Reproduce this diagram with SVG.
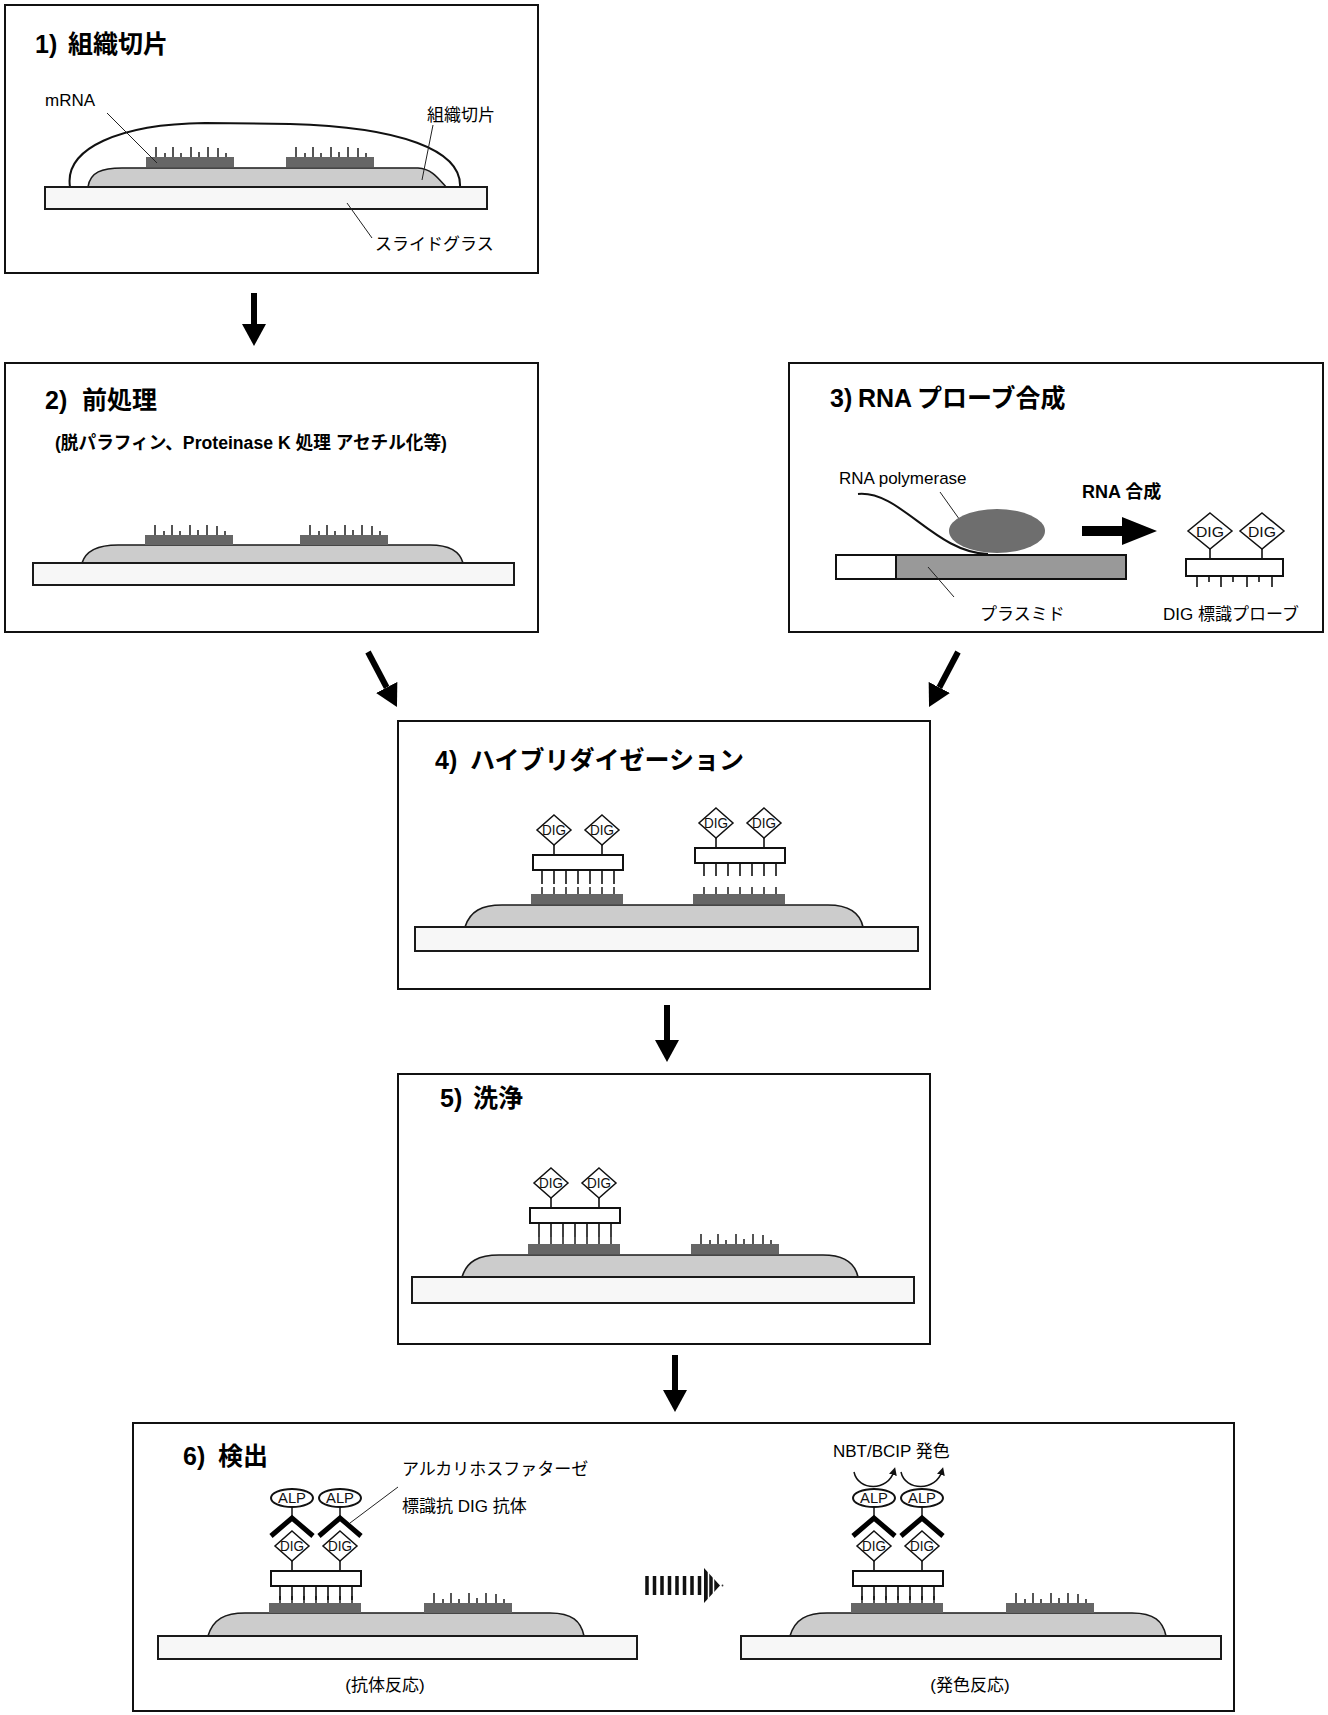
<svg xmlns="http://www.w3.org/2000/svg" xmlns:xlink="http://www.w3.org/1999/xlink" width="1328" height="1715" viewBox="0 0 1328 1715">
<style>
.box{fill:none;stroke:#111;stroke-width:2}
.title{font-family:"Liberation Sans","Noto Sans CJK JP",sans-serif;font-weight:bold;font-size:25px;fill:#000}
.lbl{font-family:"Liberation Sans","Noto Sans CJK JP",sans-serif;font-size:17px;fill:#000}
.blbl{font-family:"Liberation Sans","Noto Sans CJK JP",sans-serif;font-weight:bold;font-size:18px;fill:#000}
.slide{fill:#f7f7f7;stroke:#1a1a1a;stroke-width:2}
.tissue{fill:#cccccc;stroke:#1a1a1a;stroke-width:1.6}
.mbar{fill:#666}
.mtick{stroke:#555;stroke-width:2}
.ptick{stroke:#111;stroke-width:1.6}
.lead{stroke:#222;stroke-width:1;fill:none}
.arr{stroke:#000;stroke-width:6}
.dig{fill:#fff;stroke:#111;stroke-width:1.5}
.digt{font-family:"Liberation Sans",sans-serif;font-size:14px;fill:#111}
.alpt{font-family:"Liberation Sans",sans-serif;font-size:14px;fill:#111}
</style>
<defs>
<marker id="ah" viewBox="0 0 22 24" refX="0" refY="12" markerWidth="22" markerHeight="24" markerUnits="userSpaceOnUse" orient="auto">
<path d="M0,0 L22,12 L0,24 Z" fill="#000"/>
</marker>
<marker id="sah" viewBox="0 0 8 8" refX="4" refY="4" markerWidth="8" markerHeight="8" markerUnits="userSpaceOnUse" orient="auto">
<path d="M0,0 L8,4 L0,8 Z" fill="#111"/>
</marker>
<g id="dig">
<polygon class="dig" points="0,-15 17,0 0,15 -17,0"/>
<text class="digt" x="-12" y="5" textLength="24" lengthAdjust="spacingAndGlyphs">DIG</text>
</g>
<g id="probe">
<line class="ptick" x1="21" y1="-10" x2="21" y2="0"/>
<line class="ptick" x1="69" y1="-10" x2="69" y2="0"/>
<use xlink:href="#dig" x="21" y="-25"/>
<use xlink:href="#dig" x="69" y="-25"/>
<rect x="0" y="0" width="90" height="15" fill="#fff" stroke="#111" stroke-width="2"/>
<path class="ptick" d="M9,15v14M21,15v14M33,15v14M45,15v14M57,15v14M69,15v14M81,15v14"/>
</g>
<g id="mfree">
<path class="mtick" d="M10,0v-10M19,0v-4M27,0v-10M35,0v-4M45,0v-10M53,0v-5M62,0v-10M72,0v-9M80,0v-4"/>
<rect class="mbar" x="0" y="0" width="88" height="10"/>
</g>
<g id="mhyb">
<path class="mtick" d="M11,0v-7M23,0v-7M35,0v-7M47,0v-7M59,0v-7M71,0v-7M83,0v-7"/>
<rect class="mbar" x="0" y="0" width="92" height="10"/>
</g>
<g id="ab">
<line x1="0" y1="-39" x2="0" y2="-28" stroke="#111" stroke-width="1.5"/>
<polyline points="-21,-10 0,-28 21,-10" fill="none" stroke="#000" stroke-width="5"/>
<ellipse cx="0" cy="-48" rx="21" ry="9" fill="#fff" stroke="#111" stroke-width="2"/>
<text class="alpt" x="-14" y="-43" textLength="28" lengthAdjust="spacingAndGlyphs">ALP</text>
</g>
</defs>
<rect width="1328" height="1715" fill="#fff"/>

<g id="step1">
<rect class="box" x="5" y="5" width="533" height="268"/>
<text class="title" x="35" y="53">1)<tspan x="68">組織切片</tspan></text>
<path d="M70,187 C64,148 120,124 205,123 L290,124 C400,127 462,150 460,187" fill="none" stroke="#111" stroke-width="2"/>
<path class="tissue" d="M88,187 C90,172 102,168 122,168 L418,168 C432,169 438,178 446,187 Z"/>
<use xlink:href="#mfree" x="146" y="157"/>
<use xlink:href="#mfree" x="286" y="157"/>
<rect class="slide" x="45" y="187" width="442" height="22"/>
<text class="lbl" x="45" y="106" font-size="16">mRNA</text>
<line class="lead" x1="107" y1="113" x2="157" y2="163"/>
<text class="lbl" x="427" y="121" font-size="18">組織切片</text>
<line class="lead" x1="433" y1="125" x2="422" y2="180"/>
<text class="lbl" x="375" y="250">スライドグラス</text>
<line class="lead" x1="347" y1="203" x2="372" y2="238"/>
</g>

<g id="step2">
<rect class="box" x="5" y="363" width="533" height="269"/>
<text class="title" x="45" y="409">2)<tspan x="82">前処理</tspan></text>
<text class="blbl" x="55" y="449" font-size="16" textLength="392" lengthAdjust="spacingAndGlyphs">(脱パラフィン、Proteinase K 処理 アセチル化等)</text>
<path class="tissue" d="M82,563 C86,550 98,545 118,545 L430,545 C450,545 460,552 463,563 Z"/>
<use xlink:href="#mfree" x="145" y="535"/>
<use xlink:href="#mfree" x="300" y="535"/>
<rect class="slide" x="33" y="563" width="481" height="22"/>
</g>

<g id="step3">
<rect class="box" x="789" y="363" width="534" height="269"/>
<text class="title" x="830" y="407">3)<tspan x="858">RNA</tspan><tspan x="917">プローブ合成</tspan></text>
<text class="lbl" x="839" y="484">RNA polymerase</text>
<line class="lead" x1="940" y1="492" x2="967" y2="530"/>
<rect x="836" y="555" width="60" height="24" fill="#fff" stroke="#111" stroke-width="2"/>
<rect x="896" y="555" width="230" height="24" fill="#999" stroke="#111" stroke-width="2"/>
<ellipse cx="997" cy="531" rx="48" ry="22" fill="#6e6e6e"/>
<path d="M858,494 C900,490 935,553 988,554" fill="none" stroke="#111" stroke-width="2"/>
<text class="blbl" x="1082" y="498">RNA 合成</text>
<polygon points="1082,526 1122,526 1122,517 1157,531 1122,545 1122,536 1082,536" fill="#000"/>
<g id="step3-probe">
<line class="ptick" x1="1210" y1="549" x2="1210" y2="559"/>
<line class="ptick" x1="1262" y1="549" x2="1262" y2="559"/>
<polygon class="dig" points="1210,513 1232,531 1210,549 1188,531"/>
<polygon class="dig" points="1262,513 1284,531 1262,549 1240,531"/>
<text class="digt" x="1196" y="537" font-size="15" textLength="28" lengthAdjust="spacingAndGlyphs">DIG</text>
<text class="digt" x="1248" y="537" font-size="15" textLength="28" lengthAdjust="spacingAndGlyphs">DIG</text>
<rect x="1186" y="559" width="97" height="17" fill="#fff" stroke="#111" stroke-width="2"/>
<path class="ptick" d="M1197,576v11M1209,576v6M1221,576v11M1233,576v6M1247,576v11M1259,576v6M1272,576v11"/>
</g>
<line class="lead" x1="928" y1="567" x2="954" y2="597"/>
<text class="lbl" x="980" y="620" font-size="16">プラスミド</text>
<text class="lbl" x="1163" y="620">DIG 標識プローブ</text>
</g>

<g id="step4">
<rect class="box" x="398" y="721" width="532" height="268"/>
<text class="title" x="435" y="769">4)<tspan x="470">ハイブリダイゼーション</tspan></text>
<path class="tissue" d="M465,927 C470,911 482,905 502,905 L828,905 C850,905 860,913 863,927 Z"/>
<use xlink:href="#mhyb" x="531" y="894"/>
<use xlink:href="#probe" x="533" y="855"/>
<use xlink:href="#mhyb" x="693" y="894"/>
<use xlink:href="#probe" x="695" y="848"/>
<rect x="693" y="876" width="94" height="9" fill="#fff"/>
<rect class="slide" x="415" y="927" width="503" height="24"/>
</g>

<g id="step5">
<rect class="box" x="398" y="1074" width="532" height="270"/>
<text class="title" x="440" y="1107">5)<tspan x="473">洗浄</tspan></text>
<path class="tissue" d="M462,1277 C467,1261 479,1255 499,1255 L823,1255 C845,1255 855,1263 858,1277 Z"/>
<use xlink:href="#mhyb" x="528" y="1244"/>
<use xlink:href="#probe" x="530" y="1208"/>
<use xlink:href="#mfree" x="691" y="1244"/>
<rect class="slide" x="412" y="1277" width="502" height="26"/>
</g>

<g id="step6">
<rect class="box" x="133" y="1423" width="1101" height="288"/>
<text class="title" x="183" y="1465">6)<tspan x="218">検出</tspan></text>
<g id="step6-antibody">
<path class="tissue" d="M208,1636 C213,1619 225,1613 245,1613 L550,1613 C572,1613 581,1621 584,1636 Z"/>
<use xlink:href="#mhyb" x="269" y="1603"/>
<use xlink:href="#probe" x="271" y="1571"/>
<use xlink:href="#ab" x="292" y="1546"/>
<use xlink:href="#ab" x="340" y="1546"/>
<use xlink:href="#mfree" x="424" y="1603"/>
<rect class="slide" x="158" y="1636" width="479" height="23"/>
<text class="lbl" x="402" y="1475">アルカリホスファターゼ</text>
<text class="lbl" x="402" y="1512">標識抗 DIG 抗体</text>
<line class="lead" x1="398" y1="1487" x2="350" y2="1523"/>
<text class="lbl" x="385" y="1691" font-size="19" text-anchor="middle">(抗体反応)</text>
</g>
<g id="step6-arrow">
<path d="M647,1576v19M654.5,1576v19M662,1576v19M669.5,1576v19M677,1576v19M684.5,1576v19M692,1576v19M699.5,1576v19" stroke="#111" stroke-width="3.5"/>
<polygon points="704,1568 720,1585.5 704,1603" fill="#111"/>
<path d="M708.5,1566v40M713.5,1566v40" stroke="#fff" stroke-width="1.5"/>
<circle cx="722.5" cy="1585.5" r="0.9" fill="#333"/>
</g>
<g id="step6-color">
<path class="tissue" d="M790,1636 C795,1619 807,1613 827,1613 L1132,1613 C1154,1613 1163,1621 1166,1636 Z"/>
<use xlink:href="#mhyb" x="851" y="1603"/>
<use xlink:href="#probe" x="853" y="1571"/>
<use xlink:href="#ab" x="874" y="1546"/>
<use xlink:href="#ab" x="922" y="1546"/>
<use xlink:href="#mfree" x="1006" y="1603"/>
<rect class="slide" x="741" y="1636" width="480" height="23"/>
<path d="M854,1472 C858,1491 888,1492 894,1471" fill="none" stroke="#111" stroke-width="1.5" marker-end="url(#sah)"/>
<path d="M901,1472 C905,1491 936,1492 942,1471" fill="none" stroke="#111" stroke-width="1.5" marker-end="url(#sah)"/>
<text class="lbl" x="833" y="1457" font-size="18">NBT/BCIP 発色</text>
<text class="lbl" x="970" y="1691" font-size="19" text-anchor="middle">(発色反応)</text>
</g>
</g>

<g id="connectors">
<line class="arr" x1="254" y1="293" x2="254" y2="324" marker-end="url(#ah)"/>
<line class="arr" x1="368" y1="652" x2="386.7" y2="687.5" marker-end="url(#ah)"/>
<line class="arr" x1="958" y1="652" x2="939.3" y2="687.5" marker-end="url(#ah)"/>
<line class="arr" x1="667" y1="1005" x2="667" y2="1040" marker-end="url(#ah)"/>
<line class="arr" x1="675" y1="1355" x2="675" y2="1390" marker-end="url(#ah)"/>
</g>
</svg>
